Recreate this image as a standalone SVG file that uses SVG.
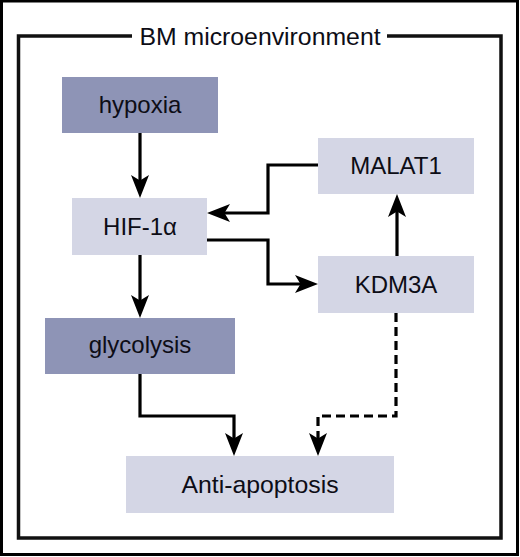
<svg xmlns="http://www.w3.org/2000/svg" width="520" height="557" viewBox="0 0 520 557">
<style>
.dark{fill:#8e94b6}
.light{fill:#d4d6e5}
.lbl{font-family:"Liberation Sans",Arial,sans-serif;font-size:24px;fill:#0d0d16;text-anchor:middle}
.frame{fill:none;stroke:#111;stroke-width:3.5}
.conn{fill:none;stroke:#000;stroke-width:3.2}
.dash{stroke-dasharray:9 5}
</style>
<defs>
<marker id="ah" markerUnits="userSpaceOnUse" markerWidth="24" markerHeight="20" viewBox="0 0 24 20" refX="14" refY="10" orient="auto">
<path d="M0,1 L23,10 L0,19 L5.5,10 Z" fill="#000"/>
</marker>
</defs>
<rect x="0" y="0" width="520" height="557" fill="#fff"/>
<rect x="1.5" y="1" width="516" height="553.5" fill="none" stroke="#000" stroke-width="3"/>
<g id="frame">
<path class="frame" d="M132,36 H18.5 V538 H501 V36 H387"/>
<text class="lbl" x="260" y="45" style="font-size:24.8px">BM microenvironment</text>
</g>
<g id="hypoxia">
<rect class="dark" x="62" y="77" width="156" height="56"/>
<text class="lbl" x="140" y="113">hypoxia</text>
</g>
<g id="malat1">
<rect class="light" x="318" y="138" width="156" height="56"/>
<text class="lbl" x="396" y="174">MALAT1</text>
</g>
<g id="hif">
<rect class="light" x="72" y="198" width="135" height="57"/>
<text class="lbl" x="140" y="235">HIF-1α</text>
</g>
<g id="kdm3a">
<rect class="light" x="318" y="256" width="156" height="57"/>
<text class="lbl" x="396" y="293">KDM3A</text>
</g>
<g id="glycolysis">
<rect class="dark" x="45" y="318" width="190" height="56"/>
<text class="lbl" x="140" y="353">glycolysis</text>
</g>
<g id="antiapoptosis">
<rect class="light" x="126" y="456" width="268" height="57"/>
<text class="lbl" x="260" y="493" style="font-size:24.8px">Anti-apoptosis</text>
</g>
<g id="connectors">
<path class="conn" d="M140,133 V189" marker-end="url(#ah)"/>
<path class="conn" d="M140,255 V309" marker-end="url(#ah)"/>
<path class="conn" d="M318,165 H268 V213 H216" marker-end="url(#ah)"/>
<path class="conn" d="M207,240 H268 V284 H309" marker-end="url(#ah)"/>
<path class="conn" d="M397,256 V203" marker-end="url(#ah)"/>
<path class="conn" d="M140,374 V416 H234 V447" marker-end="url(#ah)"/>
<path class="conn dash" d="M396,313 V416 H318 V447" marker-end="url(#ah)"/>
</g>
</svg>
